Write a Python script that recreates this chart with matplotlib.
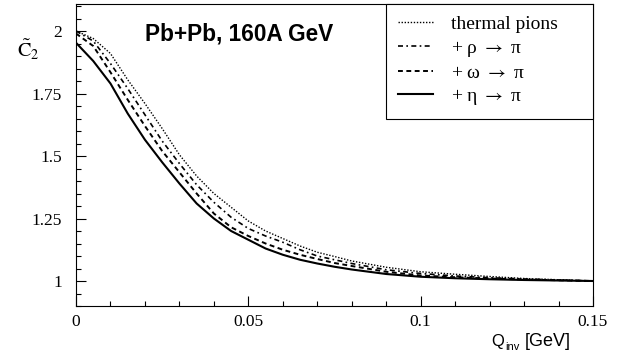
import matplotlib
matplotlib.use("Agg")
import matplotlib.pyplot as plt
from matplotlib.ticker import MultipleLocator, FixedLocator

plt.rcParams["mathtext.fontset"] = "stix"

q = [0.0, 0.005, 0.01, 0.015, 0.02, 0.025, 0.03, 0.035, 0.04, 0.045, 0.05,
     0.055, 0.06, 0.065, 0.07, 0.075, 0.08, 0.09, 0.1, 0.11, 0.12, 0.13, 0.14, 0.15]
c2_thermal = [2.0, 1.97, 1.91, 1.805, 1.71, 1.61, 1.505, 1.42, 1.35, 1.295, 1.24,
              1.20, 1.17, 1.14, 1.115, 1.098, 1.08, 1.055, 1.037, 1.027, 1.018, 1.01, 1.005, 1.0]
c2_rho = [2.0, 1.96, 1.87, 1.77, 1.665, 1.56, 1.47, 1.385, 1.315, 1.255, 1.21,
          1.18, 1.155, 1.125, 1.10, 1.085, 1.07, 1.045, 1.03, 1.02, 1.013, 1.008, 1.004, 1.0]
c2_omega = [1.99, 1.94, 1.835, 1.725, 1.62, 1.52, 1.435, 1.35, 1.27, 1.215, 1.18,
            1.15, 1.125, 1.105, 1.088, 1.072, 1.06, 1.037, 1.022, 1.015, 1.01, 1.006, 1.003, 1.0]
c2_eta = [1.953, 1.88, 1.79, 1.67, 1.565, 1.475, 1.39, 1.31, 1.25, 1.20, 1.165,
          1.13, 1.105, 1.085, 1.07, 1.057, 1.046, 1.028, 1.017, 1.011, 1.007, 1.004, 1.002, 1.0]

labels = ["thermal pions", r"+ ρ $\rightarrow$ π", r"+ ω $\rightarrow$ π", r"+ η $\rightarrow$ π"]
yticks = [1, 1.25, 1.5, 1.75, 2]
ytick_labels = ["1", "1.25", "1.5", "1.75", "2"]
xticks = [0, 0.05, 0.1, 0.15]
xtick_labels = ["0", "0.05", "0.1", "0.15"]

serif = ["Liberation Serif", "DejaVu Serif"]
sans = ["Liberation Sans", "DejaVu Sans"]

W, H = 630, 356
fig = plt.figure(figsize=(6.3, 3.56), dpi=100)
ax = fig.add_axes([76/W, 1-306/H, (593-76)/W, (306-4)/H])

ax.plot(q, c2_thermal, color="black", lw=1.0, linestyle=(0, (1, 1.2)), label=labels[0])
ax.plot(q, c2_rho, color="black", lw=1.2, linestyle=(0, (3, 2, 1, 2)), label=labels[1])
ax.plot(q, c2_omega, color="black", lw=1.4, linestyle=(0, (2.5, 1.8)), label=labels[2])
ax.plot(q, c2_eta, color="black", lw=1.5, linestyle="-", label=labels[3])

ax.set_xlim(0, 0.15)
ax.set_ylim(0.9, 2.108)
ax.xaxis.set_major_locator(FixedLocator(xticks))
ax.set_xticklabels(xtick_labels, fontfamily=serif, fontsize=12.5)
ax.xaxis.set_minor_locator(MultipleLocator(0.01))
ax.yaxis.set_major_locator(FixedLocator(yticks))
ax.set_yticklabels(ytick_labels, fontfamily=serif, fontsize=12.5)
ax.yaxis.set_minor_locator(MultipleLocator(0.05))
ax.tick_params(which="both", direction="in", top=False, right=False, width=0.8)
ax.tick_params(axis="y", which="major", length=7, pad=10)
ax.tick_params(axis="x", which="major", length=7, pad=6)
ax.tick_params(which="minor", length=3.5)
for s in ax.spines.values():
    s.set_linewidth(0.8)

ax.text((145-76)/517, (306-34.5)/302, "Pb+Pb, 160A GeV", transform=ax.transAxes,
        fontfamily=sans, fontweight="bold", fontsize=16.3, va="center", ha="left")

fig.text(17/W, 1-57/H, r"$\tilde{\mathrm{C}}_2$", fontsize=14.5, ha="left", va="baseline")

fig.text(491/W, 1-346/H, "Q", fontfamily=sans, fontsize=12, ha="left", va="baseline")
fig.text(505/W, 1-350/H, "inv", fontfamily=sans, fontsize=8, ha="left", va="baseline")
fig.text(525/W, 1-346/H, "[GeV]", fontfamily=sans, fontsize=13, ha="left", va="baseline")

x0 = (386-76)/517
leg = ax.legend(loc="upper right", bbox_to_anchor=(x0, 0, 1-x0, 1), mode="expand",
                borderaxespad=0, fancybox=False, frameon=True,
                edgecolor="black", prop={"family": serif, "size": 14},
                handlelength=1.8, handletextpad=0.95, labelspacing=0.28,
                borderpad=0.6, framealpha=1)
leg.get_frame().set_linewidth(0.8)

fig.savefig("out.png", dpi=100)
